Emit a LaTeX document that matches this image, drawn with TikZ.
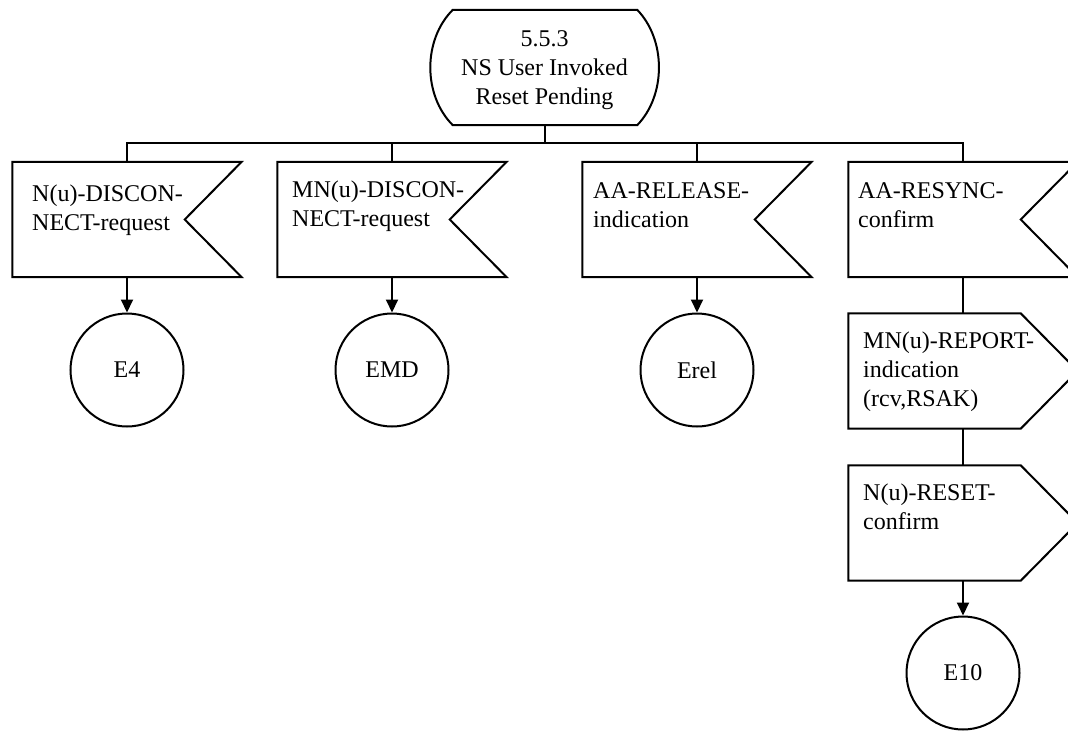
\documentclass[tikz,border=0pt]{standalone}
\usepackage{fontspec}
\setmainfont{Liberation Serif}
\usetikzlibrary{arrows.meta}
\begin{document}
\begin{tikzpicture}[x=1pt,y=-1pt,
  every node/.style={font=\fontsize{24}{29}\selectfont},
  frame/.style={minimum width=229pt,minimum height=115pt,inner sep=0pt,draw=none},
  outline/.style={line width=2pt,line join=miter},
  label/.style={anchor=base west,align=left,inner sep=0pt},
  conn/.style={circle,draw,line width=2pt,minimum size=113pt,inner sep=0pt},
  link/.style={line width=2pt},
  arrowlink/.style={line width=2pt,-{Triangle[length=13pt,width=12pt]}}]
\useasboundingbox (0,0) rectangle (1068,731);
\clip (0,0) rectangle (1068,731);

% state symbol
\node[frame] (st) at (544.5,67.5) {};
\draw[outline] ([xshift=23pt]st.north west) -- ([xshift=-22pt]st.north east)
  .. controls ([xshift=7pt,yshift=-30pt]st.north east) and ([xshift=7pt,yshift=30pt]st.south east) .. ([xshift=-22pt]st.south east)
  -- ([xshift=23pt]st.south west)
  .. controls ([xshift=-7pt,yshift=30pt]st.south west) and ([xshift=-7pt,yshift=-30pt]st.north west) .. cycle;
\node[align=center,inner sep=0pt] (sttext) at (544.5,70) {5.5.3\\NS User Invoked\\Reset Pending};

% input symbols (notched on the right)
\node[frame] (b1) at (127,219.5) {};
\node[frame] (b2) at (392,219.5) {};
\node[frame] (b3) at (697,219.5) {};
\node[frame] (b4) at (963,219.5) {};
\foreach \b in {b1,b2,b3,b4}{
  \draw[outline] (\b.north west) -- (\b.north east) -- ([xshift=-57pt]\b.east)
    -- (\b.south east) -- (\b.south west) -- cycle;
}
% labels are anchored on the baseline of their last line
\node[label] (t1) at (32,230.5) {N(u)-DISCON-\\NECT-request};
\node[label] (t2) at (292,226.5) {MN(u)-DISCON-\\NECT-request};
\node[label] (t3) at (593,227.5) {AA-RELEASE-\\indication};
\node[label] (t4) at (858,227.5) {AA-RESYNC-\\confirm};

% output symbols (pointed on the right)
\node[frame] (b5) at (963,371) {};
\node[frame] (b6) at (963,523) {};
\foreach \b in {b5,b6}{
  \draw[outline] (\b.north west) -- ([xshift=-57pt]\b.north east) -- (\b.east)
    -- ([xshift=-57pt]\b.south east) -- (\b.south west) -- cycle;
}
\node[label] (t5) at (863,406.5) {MN(u)-REPORT-\\indication\\(rcv,RSAK)};
\node[label] (t6) at (863,529.5) {N(u)-RESET-\\confirm};

% connectors to next states
\node[conn] (e4) at (127,370) {E4};
\node[conn] (emd) at (392,370) {EMD};
\node[conn] (erel) at (697,370) {Erel};
\node[conn] (e10) at (963,673) {E10};

% branching bus
\coordinate (bus) at (544.5,143);
\draw[link] (st.south) -- (bus);
\draw[link] (b1.north) -- (b1.north |- bus) -- (b4.north |- bus) -- (b4.north);
\draw[link] (b2.north) -- (b2.north |- bus);
\draw[link] (b3.north) -- (b3.north |- bus);

% flow lines
\draw[arrowlink] (b1.south) -- (e4.north);
\draw[arrowlink] (b2.south) -- (emd.north);
\draw[arrowlink] (b3.south) -- (erel.north);
\draw[link] (b4.south) -- (b5.north);
\draw[link] (b5.south) -- (b6.north);
\draw[arrowlink] (b6.south) -- (e10.north);
\end{tikzpicture}
\end{document}
